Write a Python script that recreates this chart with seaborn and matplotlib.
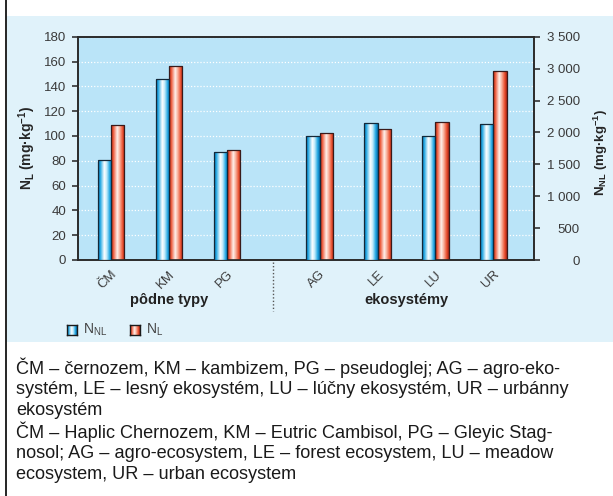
import numpy as np
import matplotlib
matplotlib.use("Agg")
import matplotlib.pyplot as plt
import seaborn as sns
from matplotlib.patches import Rectangle
from matplotlib.colors import LinearSegmentedColormap

# ----------------------------------------
# Data
# ----------------------------------------
categories = ["ČM", "KM", "PG", "AG", "LE", "LU", "UR"]
positions = [0, 1, 2, 3.6, 4.6, 5.6, 6.6]          # gap between soil types and ecosystems
n_nl = [1575, 2840, 1685, 1940, 2155, 1945, 2135]   # right axis, mg/kg
n_l = [108.5, 156.5, 89, 102, 106, 111.5, 152.5]    # left axis, mg/kg
group_labels = ["pôdne typy", "ekosystémy"]

sns.set_style("ticks")
plt.rcParams["font.family"] = ["Liberation Sans Narrow", "Liberation Sans", "DejaVu Sans"]
plt.rcParams["mathtext.default"] = "regular"

panel_bg = "#e0f2fa"
axes_bg = "#bae4f8"
tick_col = "#3a3a3a"

fig = plt.figure(figsize=(6.13, 4.96), dpi=100)
fig.patch.set_facecolor("white")

# light blue panel + left frame line
fig.add_artist(Rectangle((7 / 613, 1 - 342 / 496), 1, (342 - 16) / 496,
                         transform=fig.transFigure, facecolor=panel_bg,
                         edgecolor="none", zorder=-5))
fig.add_artist(plt.Line2D([6 / 613, 6 / 613], [0, 1], transform=fig.transFigure,
                          color="black", lw=1.2, zorder=-4))

ax = fig.add_axes([78 / 613, 1 - 260 / 496, (534 - 78) / 613, (260 - 36.7) / 496])
ax.set_facecolor(axes_bg)
ax2 = ax.twinx()

w = 0.23
x_red = [p + w / 2 for p in positions]
x_blue = [p - w / 2 for p in positions]

sns.barplot(x=x_red, y=n_l, native_scale=True, width=w, color="#e8502f",
            edgecolor="#3a1a1a", linewidth=0.9, ax=ax, zorder=3)
sns.barplot(x=x_blue, y=n_nl, native_scale=True, width=w, color="#22a8df",
            edgecolor="#142838", linewidth=0.9, ax=ax2, zorder=3)

# cylinder-like shading on the bars
blue_cmap = LinearSegmentedColormap.from_list(
    "b", [(0, "#0b6fae"), (0.15, "#1fa6e2"), (0.45, "#ffffff"),
          (0.62, "#c4ecfb"), (0.85, "#1fa6e2"), (1, "#0a6aa8")])
red_cmap = LinearSegmentedColormap.from_list(
    "r", [(0, "#b82a18"), (0.15, "#ec5535"), (0.45, "#fff1ec"),
          (0.62, "#f9b4a0"), (0.85, "#ea4f2e"), (1, "#a82414")])
grad = np.linspace(0, 1, 64).reshape(1, -1)
for axx, cmap in [(ax, red_cmap), (ax2, blue_cmap)]:
    for p in list(axx.patches):
        x0, y0 = p.get_x(), p.get_y()
        im = axx.imshow(grad, cmap=cmap, aspect="auto", zorder=3.5,
                        extent=(x0, x0 + p.get_width(), y0, y0 + p.get_height()))
        im.set_clip_path(p)
        p.set_zorder(4)
        p.set_facecolor("none")

ax.set_xlim(-0.57, 7.3)
ax.set_ylim(0, 180)
ax2.set_ylim(0, 3500)
ax.set_yticks(range(0, 181, 20))
ax2.set_yticks(range(0, 3501, 500))
ax2.set_yticklabels([f"{v:,}".replace(",", " ") for v in range(0, 3501, 500)])

ax.yaxis.grid(True, color="white", linestyle=(0, (1, 1.5)), lw=0.9)
ax.set_axisbelow(True)

ax.set_xticks(positions)
ax.set_xticklabels(categories, rotation=45, ha="right", rotation_mode="anchor")
ax.tick_params(axis="x", length=0, pad=6, labelsize=9.5, labelcolor=tick_col)
ax.tick_params(axis="y", length=4.5, width=1.2, color="#333333", labelsize=9.5,
               labelcolor=tick_col, pad=4)
ax2.tick_params(axis="y", length=4.5, width=1.2, color="#333333", labelsize=9.5,
                labelcolor=tick_col, pad=28.5)
for lbl in ax2.get_yticklabels():
    lbl.set_horizontalalignment("right")

for a in (ax, ax2):
    for s in a.spines.values():
        s.set_visible(True)
        s.set_color("#2a2a2a")
        s.set_linewidth(1.2)

ax.set_xlabel("")
ax.set_ylabel(r"N$_L$ (mg·kg$^{-1}$)", fontsize=10, fontweight="bold")
ax.yaxis.set_label_coords(-40 / 456, 0.5)
ax2.set_ylabel(r"N$_{NL}$ (mg·kg$^{-1}$)", fontsize=9.5, fontweight="bold")
ax2.yaxis.set_label_coords(1 + 58 / 456, 0.48)

# group labels and separator
ax.text(np.mean(positions[:3]), -0.18, group_labels[0], transform=ax.get_xaxis_transform(),
        ha="center", va="center", fontsize=10.5, fontweight="bold", color="#222222")
ax.text(np.mean(positions[3:]), -0.18, group_labels[1], transform=ax.get_xaxis_transform(),
        ha="center", va="center", fontsize=10.5, fontweight="bold", color="#222222")
ax.plot([2.8, 2.8], [-0.01, -0.23], transform=ax.get_xaxis_transform(),
        color="#555555", lw=1, linestyle=(0, (1, 1.5)), clip_on=False)

# legend
for i, (cmap, lab) in enumerate([(blue_cmap, r"N$_{NL}$"), (red_cmap, r"N$_L$")]):
    lx = 67 / 613 + i * 63 / 613
    lax = fig.add_axes([lx, 1 - 335 / 496, 10 / 613, 10 / 496])
    lax.imshow(grad, cmap=cmap, aspect="auto")
    lax.set_xticks([])
    lax.set_yticks([])
    for s in lax.spines.values():
        s.set_color("#1a1a1a")
        s.set_linewidth(1)
    fig.text(lx + 16 / 613, 1 - 330 / 496, lab, fontsize=10, color="#444444", va="center")

caption = [
    "ČM – černozem, KM – kambizem, PG – pseudoglej; AG – agro-eko-",
    "systém, LE – lesný ekosystém, LU – lúčny ekosystém, UR – urbánny",
    "ekosystém",
    "ČM – Haplic Chernozem, KM – Eutric Cambisol, PG – Gleyic Stag-",
    "nosol; AG – agro-ecosystem, LE – forest ecosystem, LU – meadow",
    "ecosystem, UR – urban ecosystem",
]
for i, line in enumerate(caption):
    fig.text(16 / 613, 1 - (368 + i * 21.3) / 496, line, fontsize=13.1,
             family=["Liberation Sans", "DejaVu Sans"], color="#1a1a1a", va="center")

fig.savefig("out.png", dpi=100)
